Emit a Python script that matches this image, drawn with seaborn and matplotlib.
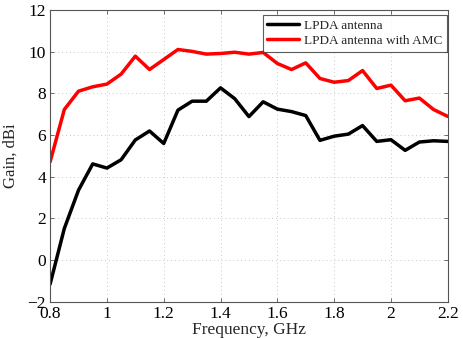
import numpy as np
import pandas as pd
import matplotlib
matplotlib.use("Agg")
import matplotlib.pyplot as plt
import seaborn as sns

# datos
freq = [0.80, 0.85, 0.90, 0.95, 1.00, 1.05, 1.10, 1.15, 1.20, 1.25,
        1.30, 1.35, 1.40, 1.45, 1.50, 1.55, 1.60, 1.65, 1.70, 1.75,
        1.80, 1.85, 1.90, 1.95, 2.00, 2.05, 2.10, 2.15, 2.20]
gain_lpda = [-1.15, 1.52, 3.36, 4.62, 4.42, 4.82, 5.77, 6.20, 5.60, 7.20,
             7.63, 7.63, 8.27, 7.75, 6.89, 7.60, 7.25, 7.13, 6.94, 5.75,
             5.95, 6.05, 6.46, 5.70, 5.78, 5.27, 5.67, 5.73, 5.70]
gain_amc = [4.72, 7.23, 8.11, 8.32, 8.45, 8.93, 9.79, 9.15, 9.63, 10.11,
            10.02, 9.89, 9.92, 9.98, 9.89, 9.97, 9.44, 9.15, 9.47, 8.72,
            8.54, 8.62, 9.10, 8.24, 8.40, 7.65, 7.78, 7.23, 6.90]
series_names = ["LPDA antenna", "LPDA antenna with AMC"]
series_colors = ["#000000", "#ff0000"]

df = pd.DataFrame({
    "freq": freq * 2,
    "gain": gain_lpda + gain_amc,
    "serie": [series_names[0]] * len(freq) + [series_names[1]] * len(freq),
})

sns.set_style("white")
plt.rcParams["font.family"] = ["Liberation Serif", "DejaVu Serif"]

fig = plt.figure(figsize=(4.64, 3.38), dpi=100)
ax = fig.add_axes([0.108, 0.107, 0.857, 0.863])

sns.lineplot(data=df, x="freq", y="gain", hue="serie", hue_order=series_names,
             palette=series_colors, linewidth=2.5, ax=ax)

ax.set_xlim(0.8, 2.2)
ax.set_ylim(-2, 12)
ax.set_xticks([0.8, 1.0, 1.2, 1.4, 1.6, 1.8, 2.0, 2.2])
ax.set_xticklabels(["0.8", "1", "1.2", "1.4", "1.6", "1.8", "2", "2.2"])
ax.set_yticks(range(-2, 13, 2))
ax.grid(True, linestyle=(0, (1, 3)), color="#c8c8c8", linewidth=0.7)
ax.tick_params(direction="in", length=3, width=0.6, labelsize=12.5,
               colors="#555555", labelcolor="black", pad=3,
               top=True, right=True, bottom=True, left=True)
for s in ax.spines.values():
    s.set_color("#555555")
    s.set_linewidth(0.8)

ax.set_xlabel("Frequency, GHz", fontsize=12.5, labelpad=0)
ax.set_ylabel("Gain, dBi", fontsize=12, labelpad=6)

leg = ax.legend(loc="upper right", bbox_to_anchor=(1.0, 0.985), borderaxespad=0.05,
                fontsize=9.5, frameon=True, fancybox=False, handlelength=2.4,
                handletextpad=0.4, borderpad=0.35, labelspacing=0.2)
leg.get_frame().set_edgecolor("#333333")
leg.get_frame().set_linewidth(0.8)

fig.savefig("out.png", dpi=100)
